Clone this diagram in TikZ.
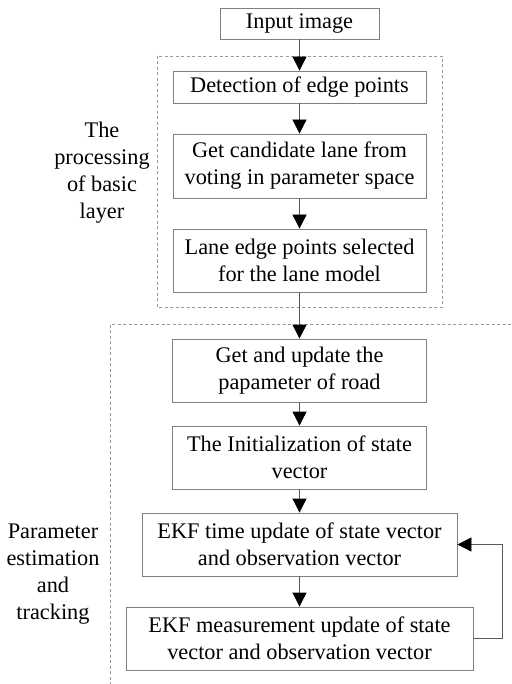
\documentclass[tikz,border=0pt]{standalone}
\usepackage{fontspec}
\setmainfont{Liberation Serif}
\newfontfamily\tnr{Liberation Serif}
\usetikzlibrary{arrows.meta}
\begin{document}
\begin{tikzpicture}[x=1pt,y=-1pt,
  box/.style={draw=black!50,line width=0.8pt,fill=white,align=center,inner sep=0pt,
    font=\tnr\fontsize{22.3}{27}\selectfont},
  lbl/.style={align=center,inner sep=0pt,font=\tnr\fontsize{22.3}{27}\selectfont},
  arr/.style={draw=black!65,line width=0.8pt,-{Triangle[width=14pt,length=14pt,color=black]}},
  region/.style={draw=black!40,line width=0.8pt,dash pattern=on 3pt off 2.5pt}]
\useasboundingbox (0,0) rectangle (511,684);
\draw[region] (157,56) rectangle (442,307);
\draw[region] (511,324) -- (110,324) -- (110,684);
\node[box,minimum width=159pt,minimum height=31pt] (in) at (299.5,23.5) {Input image};
\node[box,minimum width=253pt,minimum height=32pt] (det) at (299.5,87) {Detection of edge points};
\node[box,minimum width=253pt,minimum height=64pt] (cand) at (299.5,166) {Get candidate lane from\\voting in parameter space};
\node[box,minimum width=253pt,minimum height=63pt] (lane) at (299.5,260.5) {Lane edge points selected\\for the lane model};
\node[box,minimum width=254pt,minimum height=63pt] (upd) at (299.5,370.5) {Get and update the\\papameter of road};
\node[box,minimum width=254pt,minimum height=63pt] (init) at (299.5,457.5) {The Initialization of state\\vector};
\node[box,minimum width=315pt,minimum height=63pt] (time) at (299.5,544.5) {EKF time update of state vector\\and observation vector};
\node[box,minimum width=347pt,minimum height=63pt] (meas) at (299.5,638.5) {EKF measurement update of state\\vector and observation vector};
\node[lbl] (l1) at (102,173) {The\\processing\\of basic\\layer};
\node[lbl] (l2) at (53,574) {Parameter\\estimation\\and\\tracking};
\draw[arr] (in) -- (det);
\draw[arr] (det) -- (cand);
\draw[arr] (cand) -- (lane);
\draw[arr] (lane) -- (upd);
\draw[arr] (upd) -- (init);
\draw[arr] (init) -- (time);
\draw[arr] (time) -- (meas);
\coordinate (c1) at (502,638.5);
\coordinate (c2) at (502,544.5);
\draw[arr] (meas.east) -- (c1) -- (c2) -- (time.east);
\end{tikzpicture}
\end{document}
